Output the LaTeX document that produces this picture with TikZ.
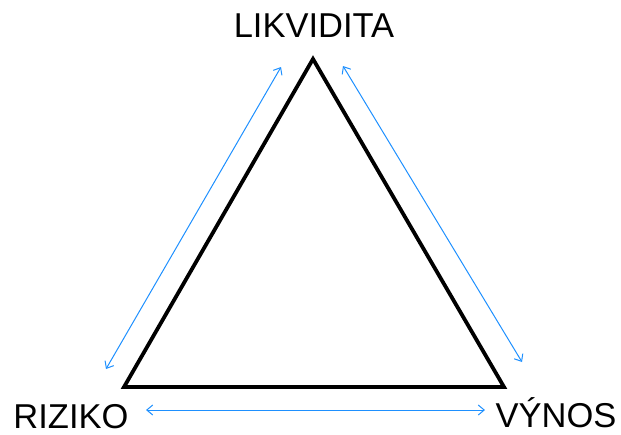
\documentclass[tikz,border=0pt]{standalone}
\usepackage{fontspec}
\setmainfont{Liberation Sans}
\usetikzlibrary{arrows.meta}
\begin{document}
\begin{tikzpicture}[x=1pt,y=-1pt,
  side/.style={line width=3.8pt,line join=miter},
  rel/.style={draw={rgb,255:red,30;green,144;blue,255},line width=1pt,{Straight Barb[length=6pt,width=10pt]}-{Straight Barb[length=6pt,width=10pt]}},
  lbl/.style={font=\fontsize{34.5}{36}\selectfont,anchor=base,inner sep=0pt,text depth=0pt}]
\useasboundingbox (0,0) rectangle (621,434);
\coordinate (top) at (313,59);
\coordinate (bl) at (124,387);
\coordinate (br) at (504,387);
\draw[side] (top) -- (br) -- (bl) -- cycle;
\coordinate (l1) at (281,67);
\coordinate (l2) at (106,369);
\coordinate (r1) at (343,66);
\coordinate (r2) at (522,362);
\coordinate (b1) at (146,410);
\coordinate (b2) at (485,410);
\draw[rel] (l1) -- (l2);
\draw[rel] (r1) -- (r2);
\draw[rel] (b1) -- (b2);
\node[lbl] (likv) at (314,37) {LIKVIDITA};
\node[lbl] (riz) at (71,428) {RIZIKO};
\node[lbl] (vyn) at (556,427) {VÝNOS};
\end{tikzpicture}
\end{document}
